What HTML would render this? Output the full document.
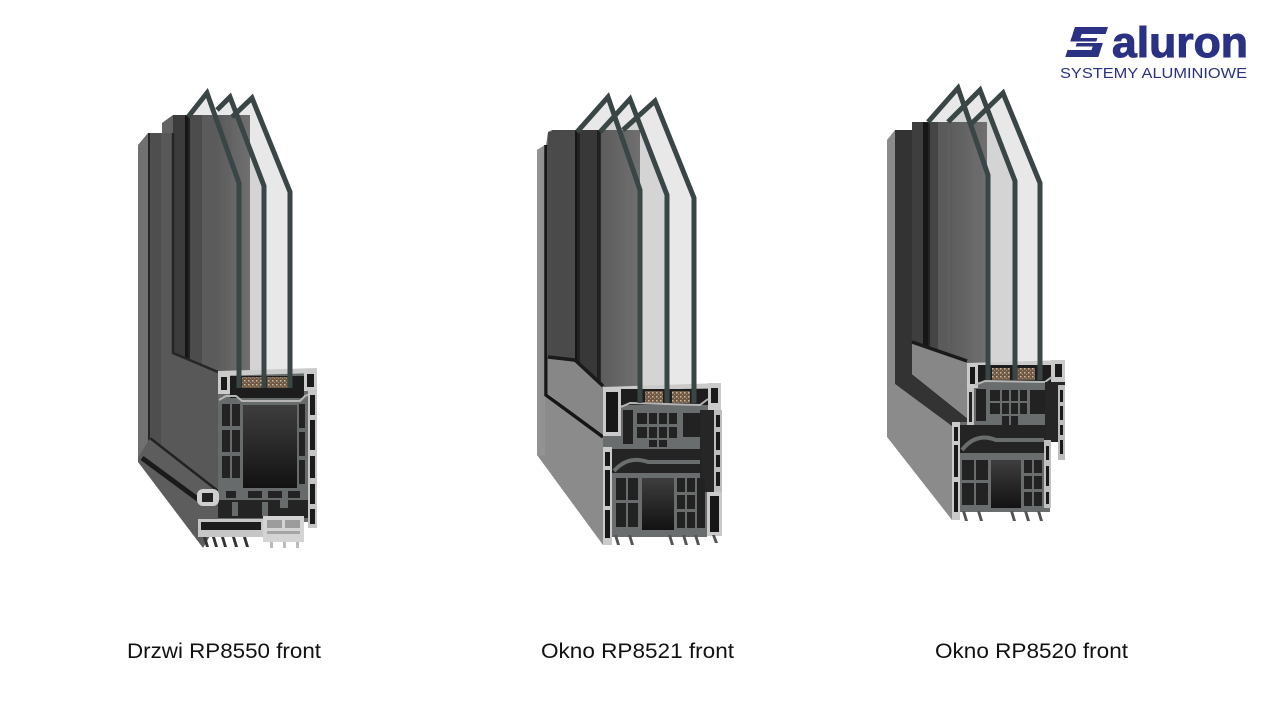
<!DOCTYPE html>
<html><head><meta charset="utf-8"><style>
html,body{margin:0;padding:0;background:#fff;}
svg{display:block;}
text{font-family:"Liberation Sans",sans-serif;}
</style></head><body>
<svg width="1280" height="720" viewBox="0 0 1280 720" xmlns="http://www.w3.org/2000/svg">
<defs>
 <linearGradient id="ch" x1="0" y1="0" x2="0" y2="1"><stop offset="0" stop-color="#3e3e3e"/><stop offset="1" stop-color="#121212"/></linearGradient>
 <linearGradient id="blk" x1="0" y1="0" x2="1" y2="0"><stop offset="0" stop-color="#555"/><stop offset="1" stop-color="#707070"/></linearGradient>
 <pattern id="spk" width="4" height="4" patternUnits="userSpaceOnUse"><rect width="4" height="4" fill="#6f5a48"/><rect width="1.5" height="1.5" fill="#cdb89c"/><rect x="2" y="2" width="1" height="1" fill="#a88f74"/></pattern>
</defs>
<rect width="1280" height="720" fill="#fff"/>

<!-- ================= PROFILE 1 (door) ================= -->
<g>
 <rect x="173" y="115" width="12" height="257" fill="#3c3c3c"/>
 <rect x="185" y="115" width="5" height="257" fill="#151515"/>
 <rect x="190" y="115" width="12" height="257" fill="#464646"/>
 <rect x="202" y="115" width="15" height="257" fill="#585858"/>
 <rect x="217" y="115" width="33" height="257" fill="url(#blk)"/>
 <g fill="#6e6e6e" fill-opacity="0.16">
  <polygon points="188,117 207,93 239,183 239,388 188,388"/>
  <polygon points="217,110 230,97 264,186 264,388 217,388"/>
  <polygon points="232,117 252,98 290,192 290,388 232,388"/>
 </g>
 <polygon points="162,133 162,123 173,115 173,133" fill="#626262"/>
 <polygon points="138,145 148,133 148,452 138,458" fill="#707070"/>
 <rect x="148" y="133" width="2" height="318" fill="#262626"/>
 <polygon points="150,133 173,133 173,353 218,372 218,490 150,437" fill="#585858"/>
 <polygon points="150,133 161,133 161,445 150,437" fill="#4e4e4e"/>
 <polyline points="173,133 173,353 218,372" fill="none" stroke="#262626" stroke-width="2.5"/>
 <polygon points="138,458 150,438 218,491 218,522 203,548 138,462" fill="#5d5d5d"/>
 <line x1="150" y1="438" x2="218" y2="491" stroke="#222" stroke-width="2.5"/>
 <line x1="142" y1="458" x2="199" y2="500" stroke="#1a1a1a" stroke-width="5"/>
 <!-- cut section -->
 <rect x="218" y="372" width="99" height="150" fill="#686b6b"/>
 <polygon points="218,371 317,368 317,373 218,376" fill="#cbcbcb"/>
 <rect x="218" y="372" width="12" height="22" fill="#cbcbcb"/>
 <rect x="221" y="377" width="6" height="13" fill="#1b1b1b"/>
 <rect x="304" y="369" width="13" height="22" fill="#cbcbcb"/>
 <rect x="307" y="374" width="7" height="13" fill="#1b1b1b"/>
 <rect x="230" y="376" width="74" height="22" fill="#1d1d1d"/>
 <rect x="242" y="377" width="20" height="11" fill="url(#spk)"/>
 <rect x="267" y="377" width="21" height="11" fill="url(#spk)"/>
 <path d="M219,400 L226,396 L236,396 L242,401 L300,401 L305,396 L310,394" stroke="#b5b5b5" stroke-width="2" fill="none"/>
 <g fill="#232323">
  <rect x="222" y="404" width="8" height="22"/><rect x="232" y="404" width="8" height="22"/>
  <rect x="222" y="430" width="8" height="22"/><rect x="232" y="430" width="8" height="22"/>
  <rect x="222" y="456" width="8" height="22"/><rect x="232" y="456" width="8" height="22"/>
  <rect x="299" y="404" width="6" height="24"/><rect x="299" y="432" width="6" height="24"/><rect x="299" y="460" width="6" height="24"/>
 </g>
 <rect x="243" y="405" width="54" height="83" fill="url(#ch)"/>
 <rect x="308" y="390" width="9" height="138" fill="#c5c5c5"/>
 <g fill="#1b1b1b">
  <rect x="310" y="395" width="5" height="20"/><rect x="310" y="420" width="5" height="30"/>
  <rect x="310" y="456" width="5" height="22"/><rect x="310" y="484" width="5" height="20"/><rect x="310" y="509" width="5" height="15"/>
 </g>
 <g fill="#232323">
  <rect x="226" y="491" width="10" height="7"/><rect x="248" y="491" width="14" height="7"/>
  <rect x="268" y="491" width="14" height="7"/><rect x="288" y="491" width="12" height="7"/>
 </g>
 <rect x="218" y="500" width="90" height="18" fill="#242424"/>
 <rect x="232" y="502" width="6" height="14" fill="#686b6b"/>
 <rect x="262" y="502" width="6" height="14" fill="#686b6b"/>
 <rect x="280" y="500" width="8" height="8" fill="#686b6b"/>
 <rect x="197" y="489" width="22" height="17" rx="6" fill="#cfcfcf"/>
 <rect x="202" y="493" width="11" height="9" fill="#222"/>
 <rect x="198" y="519" width="66" height="18" fill="#c6c6c6"/>
 <rect x="201" y="522" width="60" height="8" fill="#1c1c1c"/>
 <g fill="#333">
  <polygon points="203,537 206,537 209,547 206,547"/><polygon points="212,537 215,537 218,547 215,547"/>
  <polygon points="221,537 224,537 227,547 224,547"/><polygon points="232,537 235,537 238,547 235,547"/>
  <polygon points="243,537 246,537 249,547 246,547"/>
 </g>
 <rect x="263" y="516" width="41" height="26" fill="#d4d4d4"/>
 <rect x="267" y="520" width="15" height="8" fill="#9c9c9c"/>
 <rect x="285" y="520" width="15" height="8" fill="#9c9c9c"/>
 <rect x="267" y="531" width="33" height="3" fill="#a5a5a5"/>
 <g fill="#bbb"><rect x="270" y="542" width="3" height="6"/><rect x="283" y="542" width="3" height="6"/><rect x="296" y="542" width="3" height="6"/></g>
 <g fill="none" stroke="#3a4545" stroke-width="5" stroke-linejoin="miter">
  <polyline points="188,117 207,93 239,183 239,388"/>
  <polyline points="217,110 230,97 264,186 264,388"/>
  <polyline points="232,117 252,98 290,192 290,388"/>
 </g>
</g>

<!-- ================= PROFILE 2 (RP8521) ================= -->
<g>
 <rect x="552" y="130" width="23" height="260" fill="#484848"/>
 <rect x="575" y="130" width="5" height="260" fill="#141414"/>
 <rect x="580" y="130" width="17" height="260" fill="#2e2e2e"/>
 <rect x="597" y="130" width="4" height="260" fill="#111"/>
 <rect x="601" y="130" width="39" height="260" fill="url(#blk)"/>
 <g fill="#6e6e6e" fill-opacity="0.16">
  <polygon points="577,132 608,97 640,190 640,403 577,403"/>
  <polygon points="600,132 630,99 667,195 667,403 600,403"/>
  <polygon points="623,130 655,101 694,198 694,403 623,403"/>
 </g>
 <polygon points="537,150 545,145 546,145 546,395 603,437 603,545 537,455" fill="#8b8b8b"/>
 <polygon points="537,150 545,145 545,455 537,455" fill="#939393"/>
 <polygon points="546,146 548,132 552,130 552,146" fill="#6a6a6a"/>
 <polygon points="548,132 575,130 575,362 548,362" fill="#4a4a4a"/>
 <polygon points="548,358 575,362 603,386 603,436 548,394" fill="#878787"/>
 <polyline points="548,357 575,360 603,386" fill="none" stroke="#1a1a1a" stroke-width="3.5"/>
 <polyline points="546,145 546,395 603,437" fill="none" stroke="#151515" stroke-width="3.5"/>
 <!-- cut -->
 <rect x="603" y="387" width="117" height="63" fill="#6a6d6d"/>
 <rect x="603" y="447" width="104" height="90" fill="#6a6d6d"/>
 <polygon points="603,387 720,383 720,388 603,391" fill="#cacaca"/>
 <rect x="603" y="387" width="18" height="49" fill="#cacaca"/>
 <rect x="606" y="392" width="12" height="40" fill="#161616"/>
 <rect x="708" y="383" width="13" height="27" fill="#cacaca"/>
 <rect x="711" y="388" width="7" height="15" fill="#1b1b1b"/>
 <rect x="621" y="389" width="87" height="16" fill="#1d1d1d"/>
 <rect x="645" y="391" width="18" height="12" fill="url(#spk)"/>
 <rect x="672" y="391" width="18" height="12" fill="url(#spk)"/>
 <path d="M621,407 L630,403 L700,405 L708,399" stroke="#b5b5b5" stroke-width="2" fill="none"/>
 <g fill="#222">
  <rect x="623" y="410" width="10" height="34"/>
  <rect x="637" y="413" width="10" height="11"/><rect x="649" y="413" width="8" height="11"/><rect x="659" y="413" width="8" height="11"/><rect x="669" y="413" width="8" height="11"/>
  <rect x="637" y="427" width="10" height="11"/><rect x="649" y="427" width="8" height="11"/><rect x="659" y="427" width="8" height="11"/><rect x="669" y="427" width="8" height="11"/>
  <rect x="649" y="440" width="8" height="7"/><rect x="659" y="440" width="8" height="7"/>
  <rect x="683" y="413" width="22" height="24"/>
 </g>
 <rect x="700" y="410" width="22" height="82" fill="#262626"/>
 <rect x="714" y="410" width="8" height="82" fill="#bdbdbd"/>
 <g fill="#1a1a1a"><rect x="716" y="415" width="4" height="12"/><rect x="716" y="432" width="4" height="18"/><rect x="716" y="455" width="4" height="12"/><rect x="716" y="472" width="4" height="14"/></g>
 <rect x="603" y="447" width="9" height="98" fill="#cacaca"/>
 <g fill="#181818"><rect x="605" y="452" width="5" height="14"/><rect x="605" y="470" width="5" height="36"/><rect x="605" y="510" width="5" height="28"/></g>
 <rect x="612" y="449" width="90" height="24" fill="#242424"/>
 <path d="M614,471 Q628,455 648,462 L700,462" stroke="#6a6d6d" stroke-width="4" fill="none"/>
 <g fill="#222">
  <rect x="616" y="478" width="10" height="22"/><rect x="628" y="478" width="10" height="22"/>
  <rect x="616" y="503" width="10" height="24"/><rect x="628" y="503" width="10" height="24"/>
  <rect x="677" y="478" width="8" height="14"/><rect x="687" y="478" width="8" height="14"/>
  <rect x="677" y="495" width="8" height="14"/><rect x="687" y="495" width="8" height="14"/>
  <rect x="677" y="512" width="8" height="16"/><rect x="687" y="512" width="8" height="16"/>
  <rect x="697" y="478" width="8" height="50"/>
 </g>
 <rect x="642" y="478" width="32" height="52" fill="url(#ch)"/>
 <rect x="707" y="492" width="15" height="44" fill="#cacaca"/>
 <rect x="710" y="496" width="9" height="36" fill="#161616"/>
 <g fill="#555">
  <polygon points="614,535 617,535 620,545 617,545"/><polygon points="628,535 631,535 634,545 631,545"/>
  <polygon points="668,535 671,535 674,545 671,545"/><polygon points="682,535 685,535 688,545 685,545"/>
  <polygon points="694,535 697,535 700,545 697,545"/><polygon points="712,535 715,535 718,543 715,543"/>
 </g>
 <g fill="none" stroke="#3a4545" stroke-width="5" stroke-linejoin="miter">
  <polyline points="577,132 608,97 640,190 640,403"/>
  <polyline points="600,132 630,99 667,195 667,403"/>
  <polyline points="623,130 655,101 694,198 694,403"/>
 </g>
</g>

<!-- ================= PROFILE 3 (RP8520) ================= -->
<g>
 <rect x="912" y="122" width="11" height="250" fill="#4a4a4a"/>
 <rect x="923" y="122" width="7" height="250" fill="#161616"/>
 <rect x="930" y="122" width="8" height="250" fill="#3d3d3d"/>
 <rect x="938" y="122" width="12" height="250" fill="#585858"/>
 <rect x="950" y="122" width="37" height="250" fill="url(#blk)"/>
 <g fill="#6e6e6e" fill-opacity="0.16">
  <polygon points="928,122 958,88 988,175 988,380 928,380"/>
  <polygon points="948,122 980,90 1015,181 1015,380 948,380"/>
  <polygon points="970,125 1003,93 1040,183 1040,380 970,380"/>
 </g>
 <polygon points="887,140 895,130 895,384 952,425 952,520 887,437" fill="#8b8b8b"/>
 <polygon points="895,130 912,130 912,374 967,418 967,428 952,426 895,384" fill="#333"/>
 <polygon points="912,122 923,122 923,345 912,345" fill="#3e3e3e"/>
 <polygon points="912,343 967,362 967,418 912,374" fill="#878787"/>
 <polyline points="912,342 967,361" fill="none" stroke="#1a1a1a" stroke-width="3.5"/>
 <!-- cut -->
 <rect x="967" y="363" width="98" height="67" fill="#6a6d6d"/>
 <rect x="952" y="422" width="98" height="90" fill="#6a6d6d"/>
 <polygon points="967,363 1065,360 1065,365 967,367" fill="#cacaca"/>
 <rect x="967" y="363" width="11" height="25" fill="#cacaca"/>
 <rect x="970" y="367" width="5" height="17" fill="#181818"/>
 <rect x="967" y="388" width="7" height="40" fill="#c4c4c4"/>
 <rect x="969" y="392" width="3" height="30" fill="#222"/>
 <rect x="1051" y="360" width="14" height="22" fill="#cacaca"/>
 <rect x="1055" y="364" width="7" height="13" fill="#1b1b1b"/>
 <rect x="978" y="365" width="73" height="17" fill="#1d1d1d"/>
 <rect x="992" y="368" width="18" height="12" fill="url(#spk)"/>
 <rect x="1017" y="368" width="18" height="12" fill="url(#spk)"/>
 <path d="M975,385 L985,381 L1045,382 L1052,377" stroke="#b5b5b5" stroke-width="2" fill="none"/>
 <g fill="#222">
  <rect x="976" y="389" width="10" height="32"/>
  <rect x="990" y="390" width="10" height="11"/><rect x="1002" y="390" width="7" height="11"/><rect x="1011" y="390" width="7" height="11"/><rect x="1020" y="390" width="7" height="11"/>
  <rect x="990" y="403" width="10" height="11"/><rect x="1002" y="403" width="7" height="11"/><rect x="1011" y="403" width="7" height="11"/><rect x="1020" y="403" width="7" height="11"/>
  <rect x="1002" y="416" width="7" height="10"/><rect x="1011" y="416" width="7" height="10"/>
  <rect x="1030" y="390" width="18" height="24"/>
 </g>
 <rect x="1045" y="382" width="20" height="60" fill="#262626"/>
 <rect x="1058" y="385" width="7" height="75" fill="#bdbdbd"/>
 <g fill="#1a1a1a"><rect x="1060" y="390" width="3" height="12"/><rect x="1060" y="406" width="3" height="14"/><rect x="1060" y="425" width="3" height="10"/><rect x="1060" y="440" width="3" height="14"/></g>
 <rect x="952" y="422" width="8" height="98" fill="#cacaca"/>
 <g fill="#181818"><rect x="954" y="427" width="4" height="14"/><rect x="954" y="445" width="4" height="32"/><rect x="954" y="482" width="4" height="30"/></g>
 <rect x="960" y="425" width="86" height="28" fill="#242424"/>
 <path d="M962,450 Q976,432 996,440 L1044,440" stroke="#6a6d6d" stroke-width="4" fill="none"/>
 <g fill="#222">
  <rect x="962" y="460" width="12" height="20"/><rect x="976" y="460" width="12" height="20"/>
  <rect x="962" y="483" width="12" height="22"/><rect x="976" y="483" width="12" height="22"/>
  <rect x="1024" y="460" width="8" height="13"/><rect x="1034" y="460" width="8" height="13"/>
  <rect x="1024" y="476" width="8" height="13"/><rect x="1034" y="476" width="8" height="13"/>
  <rect x="1024" y="492" width="8" height="14"/><rect x="1034" y="492" width="8" height="14"/>
 </g>
 <rect x="991" y="460" width="30" height="48" fill="url(#ch)"/>
 <rect x="1044" y="440" width="7" height="68" fill="#c0c0c0"/>
 <g fill="#1a1a1a"><rect x="1046" y="446" width="3" height="14"/><rect x="1046" y="466" width="3" height="20"/><rect x="1046" y="492" width="3" height="12"/></g>
 <g fill="#555">
  <polygon points="962,511 965,511 968,521 965,521"/><polygon points="977,511 980,511 983,521 980,521"/>
  <polygon points="1010,511 1013,511 1016,521 1013,521"/><polygon points="1024,511 1027,511 1030,521 1027,521"/>
  <polygon points="1037,511 1040,511 1043,521 1040,521"/>
 </g>
 <g fill="none" stroke="#3a4545" stroke-width="5" stroke-linejoin="miter">
  <polyline points="928,122 958,88 988,175 988,380"/>
  <polyline points="948,122 980,90 1015,181 1015,380"/>
  <polyline points="970,125 1003,93 1040,183 1040,380"/>
 </g>
</g>

<!-- ================= LOGO ================= -->
<g fill="#2b3183">
 <g transform="translate(1075,27) skewX(-18)">
  <rect x="0" y="0" width="33" height="7"/>
  <rect x="0" y="0" width="9" height="14"/>
  <rect x="0" y="11" width="26" height="3.5"/>
  <rect x="7" y="16" width="26" height="3.5"/>
  <rect x="24" y="16" width="9" height="14"/>
  <rect x="0" y="23" width="33" height="7"/>
 </g>
 <text x="1112" y="57" font-size="43" font-weight="bold" textLength="136" lengthAdjust="spacingAndGlyphs" stroke="#2b3183" stroke-width="1">aluron</text>
 <text x="1060" y="78" font-size="14.5" textLength="187" lengthAdjust="spacingAndGlyphs">SYSTEMY ALUMINIOWE</text>
</g>

<!-- ================= LABELS ================= -->
<g fill="#111" font-size="21">
 <text x="127" y="658" textLength="194" lengthAdjust="spacingAndGlyphs">Drzwi RP8550 front</text>
 <text x="541" y="658" textLength="193" lengthAdjust="spacingAndGlyphs">Okno RP8521 front</text>
 <text x="935" y="658" textLength="193" lengthAdjust="spacingAndGlyphs">Okno RP8520 front</text>
</g>
</svg>
</body></html>
